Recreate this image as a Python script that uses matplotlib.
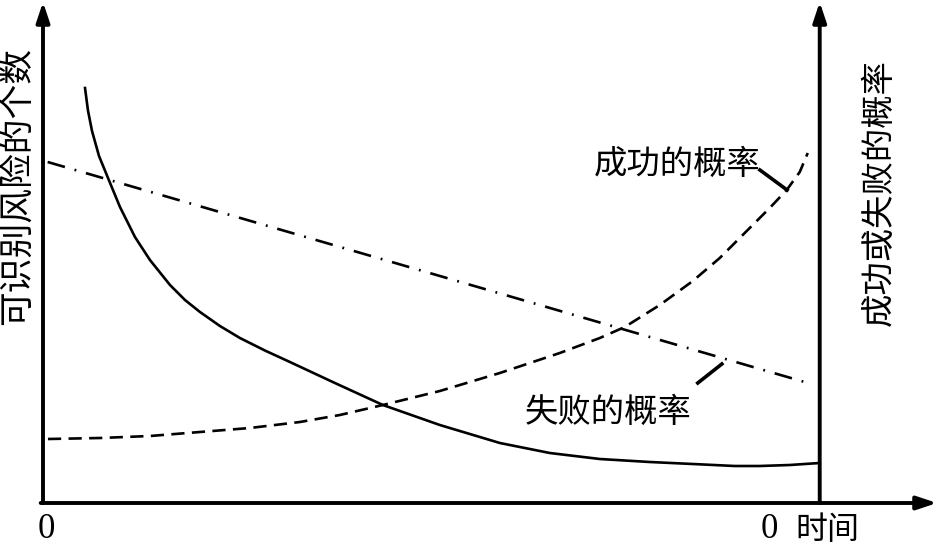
import numpy as np
import matplotlib.pyplot as plt

plt.rcParams['font.family'] = ['Noto Sans CJK SC', 'DejaVu Sans']

# values; time runs 0..100, the y scale is arbitrary 0..100
risk_t = [5.41, 5.79, 6.31, 7.21, 8.37, 9.91, 11.84, 13.77, 16.35, 18.28, 20.21, 22.78,
          25.35, 28.57, 31.79, 37.58, 43.76, 51.09, 58.82, 65.25, 71.69, 78.12, 83.66,
          89.06, 92.28, 96.14, 100.0]
risk_y = [83.0, 78.5, 74.4, 69.4, 65.0, 59.2, 53.2, 48.6, 43.6, 40.6, 38.2, 35.4,
          33.0, 30.5, 28.2, 24.0, 19.6, 15.6, 12.0, 10.0, 8.8, 8.2, 7.8,
          7.4, 7.4, 7.6, 8.0]

fail_t = [0.6, 98.5]
fail_y = [68.2, 24.0]

succ_t = [0.64, 7.34, 13.77, 20.21, 26.64, 33.08, 38.22, 43.76, 51.09, 58.82, 66.54,
          71.69, 74.90, 79.41, 83.66, 87.13, 90.60, 93.56, 95.75, 97.43, 98.46]
succ_y = [12.8, 13.0, 13.4, 14.2, 15.0, 16.2, 17.6, 19.6, 22.4, 26.0, 30.0,
          33.0, 35.2, 39.6, 44.4, 49.0, 54.4, 59.0, 62.6, 66.2, 70.0]

left_label = '可识别风险的个数'
right_label = '成功或失败的概率'
succ_label = '成功的概率'
fail_label = '失败的概率'
time_label = '时间'

T_END = 100.0
X_MAX = 115.1
Y_MAX = 100.2

fig = plt.figure(figsize=(9.42, 5.46), dpi=100)
ax = fig.add_axes([43 / 942, 43 / 546, 894 / 942, 501 / 546])
ax.set_xlim(0, X_MAX)
ax.set_ylim(0, Y_MAX)
ax.axis('off')

# axes with arrow heads
arrow = dict(arrowstyle='-|>,head_length=1.2,head_width=0.4', color='black',
             lw=2.8, shrinkA=0, shrinkB=0)
ax.annotate('', xy=(0, Y_MAX), xytext=(0, 0), arrowprops=arrow, annotation_clip=False)
ax.annotate('', xy=(T_END, Y_MAX), xytext=(T_END, 0), arrowprops=arrow, annotation_clip=False)
ax.annotate('', xy=(X_MAX, 0), xytext=(-0.3, 0), arrowprops=arrow, annotation_clip=False)

ax.plot(risk_t, risk_y, color='black', lw=1.9, solid_joinstyle='round')
ax.plot(fail_t, fail_y, color='black', lw=1.9, dashes=(6.8, 3.8, 0.7, 3.8))
ax.plot(succ_t, succ_y, color='black', lw=1.9, dashes=(5, 2.8))

# leader lines
ax.plot([92.3, 95.8], [66.6, 62.6], color='black', lw=2.6)
ax.plot([84.3, 87.4], [24.0, 27.8], color='black', lw=2.6)

cjk = dict(ha='center', va='center', clip_on=False)
ax.text(81.6, 67.8, succ_label, fontsize=24, **cjk)
ax.text(72.7, 18.2, fail_label, fontsize=24, **cjk)

ax.text(-3.2, 63.4, left_label, fontsize=25, rotation=90, **cjk)
ax.text(107.7, 62.0, right_label, fontsize=24, rotation=90, **cjk)

ax.text(0.4, -5.4, '0', fontsize=25, family='Liberation Serif',
        ha='center', va='center', clip_on=False)
ax.text(93.5, -5.4, '0', fontsize=25, family='Liberation Serif',
        ha='center', va='center', clip_on=False)
ax.text(101.0, -5.4, time_label, fontsize=23, **cjk)

fig.savefig('out.png', dpi=100)
